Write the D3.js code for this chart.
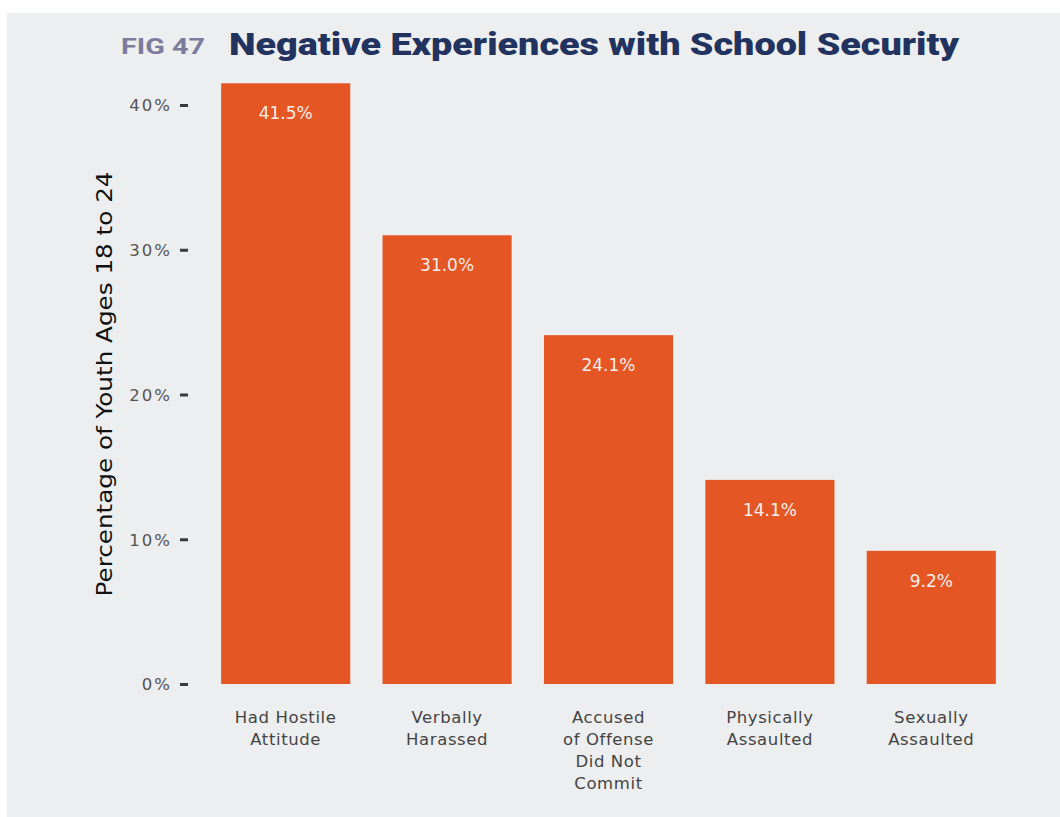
<!DOCTYPE html>
<html><head><meta charset="utf-8">
<script src="https://cdn.jsdelivr.net/npm/d3@7"></script>
<style>
html,body{margin:0;padding:0;background:#fff;}
svg{display:block;}
</style></head>
<body>
<svg id="chart" width="1060" height="817"></svg>
<script>
const categories = [
  ["Had Hostile","Attitude"],
  ["Verbally","Harassed"],
  ["Accused","of Offense","Did Not","Commit"],
  ["Physically","Assaulted"],
  ["Sexually","Assaulted"]
];
const values = [41.5, 31.0, 24.1, 14.1, 9.2];
const yTicks = [0, 10, 20, 30, 40];
const figLabel = "FIG 47";
const titleText = "Negative Experiences with School Security";
const yTitle = "Percentage of Youth Ages 18 to 24";

const FONT = "'DejaVu Sans', 'Open Sans', sans-serif";
const svg = d3.select("#chart");
svg.append("rect").attr("x",7).attr("y",13).attr("width",1053).attr("height",804).attr("fill","#edeef0");

const x = d3.scaleBand().domain(d3.range(values.length)).range([205, 1012]).paddingInner(0.2).paddingOuter(0.1);
const y = d3.scaleLinear().domain([0, 40]).range([684, 105]);

// bars
svg.selectAll("rect.bar").data(values).join("rect").attr("class","bar")
  .attr("x",(d,i)=>x(i)).attr("width",x.bandwidth())
  .attr("y",d=>y(d)).attr("height",d=>y(0)-y(d)).attr("fill","#e55625");

// value labels
svg.selectAll("text.val").data(values).join("text").attr("class","val")
  .attr("x",(d,i)=>x(i)+x.bandwidth()/2).attr("y",d=>y(d)+36)
  .attr("text-anchor","middle").attr("fill","#fbeee8")
  .style("font-family",FONT).style("font-size","17px")
  .text(d=>d.toFixed(1)+"%");

// y axis
const yAxis = d3.axisLeft(y).tickValues(yTicks).tickFormat(d=>d+"%").tickSize(0).tickPadding(0);
const ga = svg.append("g").attr("transform","translate(180,0)").call(yAxis);
ga.select(".domain").remove();
ga.selectAll(".tick text").attr("x",-8).attr("dy","0.36em").attr("fill","#555")
  .style("font-family",FONT).style("font-size","16.5px").style("letter-spacing","2px");
ga.selectAll(".tick").append("rect").attr("x",0).attr("y",-1.5).attr("width",8).attr("height",3).attr("fill","#3a3a3a");

// x category labels
const xl = svg.selectAll("text.cat").data(categories).join("text").attr("class","cat")
  .attr("text-anchor","middle").attr("fill","#444")
  .style("font-family",FONT).style("font-size","16.5px").style("letter-spacing","0.6px");
xl.each(function(lines,i){
  const t = d3.select(this);
  lines.forEach((ln,j)=>{
    t.append("tspan").attr("x",x(i)+x.bandwidth()/2).attr("y",723+j*22).text(ln);
  });
});

// y title
svg.append("text").attr("transform","translate(112,384) rotate(-90)")
  .attr("text-anchor","middle").attr("fill","#111")
  .style("font-family",FONT).style("font-size","22px")
  .attr("textLength",425).attr("lengthAdjust","spacingAndGlyphs")
  .text(yTitle);

// title
svg.append("text").attr("x",121).attr("y",54).attr("fill","#7c7c9c")
  .style("font-family","Roboto, sans-serif").style("font-weight","700").style("font-size","22px")
  .attr("textLength",84).attr("lengthAdjust","spacingAndGlyphs").text(figLabel);
svg.append("text").attr("x",229).attr("y",55).attr("fill","#22335f")
  .style("font-family","Roboto, sans-serif").style("font-weight","900").style("font-size","31px")
  .attr("textLength",730).attr("lengthAdjust","spacingAndGlyphs").text(titleText);
</script>
</body></html>
